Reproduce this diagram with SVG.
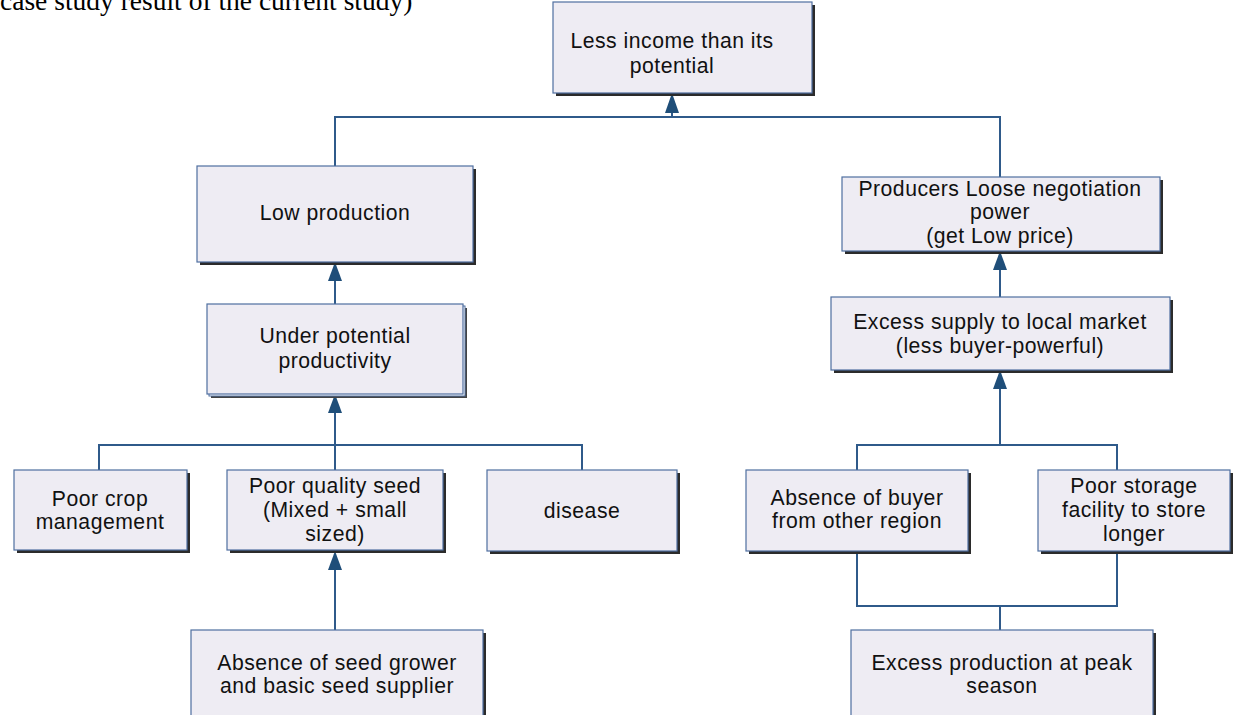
<svg xmlns="http://www.w3.org/2000/svg" width="1241" height="715" viewBox="0 0 1241 715">
<style>
.box{fill:#EEECF3;stroke:#4F6FA0;stroke-width:1.2}
.sh{fill:#2b2b2b}
.t{font-family:"Liberation Sans",Arial,sans-serif;font-size:21.2px;letter-spacing:0.5px;fill:#111;text-anchor:middle}
.c{fill:none;stroke:#2F5A8A;stroke-width:2}
.cap{font-family:"Liberation Serif",serif;font-size:27.5px;fill:#000}
</style>
<rect width="1241" height="715" fill="#fff"/>
<text class="cap" x="0" y="10">case study result of the current study)</text>

<g id="connectors">
<path class="c" d="M335,166 V117 H1000 V178"/>
<path class="c" d="M672,117 V95"/>
<path d="M672,93 L679,113 L665,113 Z" fill="#1F4E79"/>
<path class="c" d="M335,304 V266"/>
<path d="M335,262 L342,281 L328,281 Z" fill="#1F4E79"/>
<path class="c" d="M99,470 V445 H582 V470 M335,470 V445"/>
<path class="c" d="M335,445 V398"/>
<path d="M335,394 L342,413 L328,413 Z" fill="#1F4E79"/>
<path class="c" d="M335,630 V555"/>
<path d="M335,551 L342,570 L328,570 Z" fill="#1F4E79"/>
<path class="c" d="M1000,297 V255"/>
<path d="M1000,251 L1007,270 L993,270 Z" fill="#1F4E79"/>
<path class="c" d="M857,470 V445 H1117 V470 M1000,445 V374"/>
<path d="M1000,370 L1007,389 L993,389 Z" fill="#1F4E79"/>
<path class="c" d="M857,551 V606 H1117 V551 M1000,606 V630"/>
</g>

<g id="n-top">
<rect class="sh" x="556" y="5" width="259" height="91"/>
<rect class="box" x="553" y="2" width="259" height="91"/>
<text class="t" x="672" y="48">Less  income than its</text>
<text class="t" x="672" y="73">potential</text>
</g>
<g id="n-lowprod">
<rect class="sh" x="200" y="169" width="276" height="96"/>
<rect class="box" x="197" y="166" width="276" height="96"/>
<text class="t" x="335" y="220">Low production</text>
</g>
<g id="n-underpot">
<rect x="211" y="308" width="256" height="90" fill="#444"/>
<rect x="209" y="306" width="256" height="90" fill="#fff" stroke="#4F6FA0" stroke-width="1"/>
<rect class="box" x="207" y="304" width="256" height="90"/>
<text class="t" x="335" y="343">Under potential</text>
<text class="t" x="335" y="368">productivity</text>
</g>
<g id="n-producers">
<rect class="sh" x="845" y="180" width="318" height="74"/>
<rect class="box" x="842" y="177" width="318" height="74"/>
<text class="t" x="1000" y="196">Producers Loose negotiation</text>
<text class="t" x="1000" y="219">power</text>
<text class="t" x="1000" y="243">(get Low price)</text>
</g>
<g id="n-excesssupply">
<rect class="sh" x="834" y="300" width="339" height="73"/>
<rect class="box" x="831" y="297" width="339" height="73"/>
<text class="t" x="1000" y="329">Excess supply to local market</text>
<text class="t" x="1000" y="353">(less buyer-powerful)</text>
</g>
<g id="n-cropmgmt">
<rect class="sh" x="17" y="473" width="173" height="80"/>
<rect class="box" x="14" y="470" width="173" height="80"/>
<text class="t" x="100" y="506">Poor crop</text>
<text class="t" x="100" y="529">management</text>
</g>
<g id="n-seed">
<rect class="sh" x="230" y="473" width="216" height="80"/>
<rect class="box" x="227" y="470" width="216" height="80"/>
<text class="t" x="335" y="493">Poor quality seed</text>
<text class="t" x="335" y="517">(Mixed + small</text>
<text class="t" x="335" y="541">sized)</text>
</g>
<g id="n-disease">
<rect class="sh" x="490" y="473" width="190" height="81"/>
<rect class="box" x="487" y="470" width="190" height="81"/>
<text class="t" x="582" y="518">disease</text>
</g>
<g id="n-buyer">
<rect class="sh" x="749" y="473" width="222" height="81"/>
<rect class="box" x="746" y="470" width="222" height="81"/>
<text class="t" x="857" y="505">Absence of buyer</text>
<text class="t" x="857" y="528">from other region</text>
</g>
<g id="n-storage">
<rect class="sh" x="1041" y="473" width="192" height="81"/>
<rect class="box" x="1038" y="470" width="192" height="81"/>
<text class="t" x="1134" y="493">Poor storage</text>
<text class="t" x="1134" y="517">facility to store</text>
<text class="t" x="1134" y="541">longer</text>
</g>
<g id="n-seedgrower">
<rect class="sh" x="194" y="633" width="292" height="90"/>
<rect class="box" x="191" y="630" width="292" height="90"/>
<text class="t" x="337" y="670">Absence of seed grower</text>
<text class="t" x="337" y="693">and basic seed supplier</text>
</g>
<g id="n-excessprod">
<rect class="sh" x="854" y="633" width="302" height="90"/>
<rect class="box" x="851" y="630" width="302" height="90"/>
<text class="t" x="1002" y="670">Excess production at peak</text>
<text class="t" x="1002" y="693">season</text>
</g>
</svg>
